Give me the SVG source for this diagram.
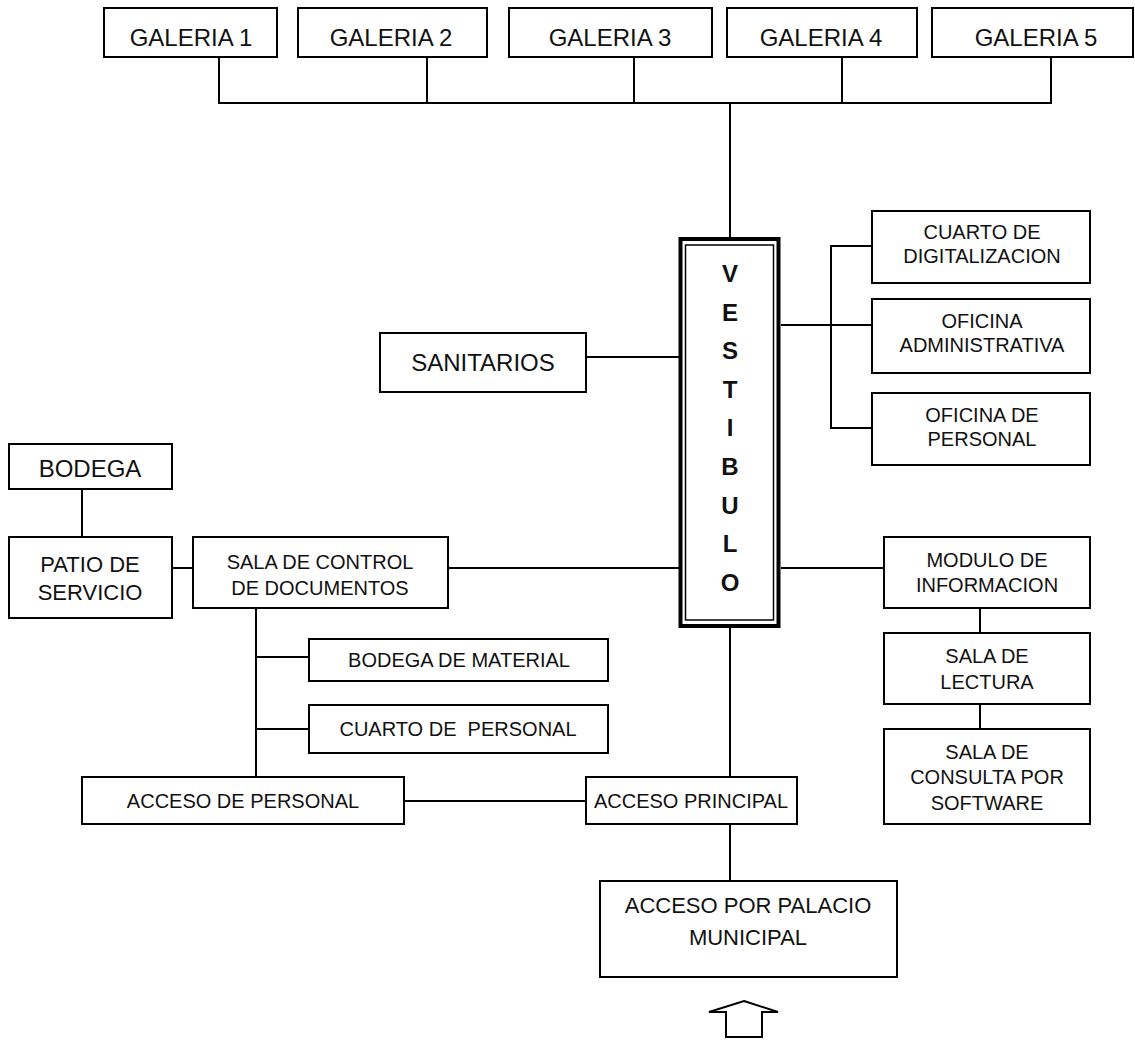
<svg xmlns="http://www.w3.org/2000/svg" width="1135" height="1042" viewBox="0 0 1135 1042">
  <style>
    .box { fill: #ffffff; stroke: #000000; stroke-width: 2; }
    .wire { fill: none; stroke: #000000; stroke-width: 2; }
    text { font-family: "Liberation Sans", Arial, sans-serif; fill: #111111; text-anchor: middle; }
    .t24 { font-size: 24px; }
    .t22 { font-size: 22px; }
    .t20 { font-size: 20px; }
    .vert { font-size: 24px; font-weight: bold; }
  </style>
  <rect x="0" y="0" width="1135" height="1042" fill="#ffffff"/>

  <!-- connectors -->
  <g id="connectors">
    <!-- gallery bus -->
    <path class="wire" d="M219,57 V103 H1051 V57 M427,57 V103 M634,57 V103 M842,57 V103 M730,103 V237"/>
    <!-- right office bus -->
    <path class="wire" d="M872,246 H831 V428 H872 M781,325 H872"/>
    <!-- sanitarios -->
    <path class="wire" d="M586,357 H679"/>
    <!-- document control row -->
    <path class="wire" d="M172,568 H193 M448,568 H679 M82,489 V537"/>
    <!-- information row -->
    <path class="wire" d="M781,568 H884 M980,608 V633 M980,704 V729"/>
    <!-- staff branch -->
    <path class="wire" d="M256,608 V777 M256,657 H309 M256,729 H309 M404,801 H586"/>
    <!-- main axis -->
    <path class="wire" d="M730,628 V777 M730,824 V881"/>
  </g>

  <!-- galleries -->
  <g id="galeria-1"><rect class="box" x="104" y="8" width="173" height="49"/><text class="t24" x="191" y="46">GALERIA 1</text></g>
  <g id="galeria-2"><rect class="box" x="298" y="8" width="189" height="49"/><text class="t24" x="391" y="46">GALERIA 2</text></g>
  <g id="galeria-3"><rect class="box" x="509" y="8" width="203" height="49"/><text class="t24" x="610" y="46">GALERIA 3</text></g>
  <g id="galeria-4"><rect class="box" x="727" y="8" width="190" height="49"/><text class="t24" x="821" y="46">GALERIA 4</text></g>
  <g id="galeria-5"><rect class="box" x="932" y="8" width="201" height="49"/><text class="t24" x="1036" y="46">GALERIA 5</text></g>

  <!-- lobby with double frame -->
  <g id="vestibulo">
    <rect x="680.5" y="239" width="98" height="387" fill="#ffffff" stroke="#000000" stroke-width="4"/>
    <rect x="685.5" y="245" width="88" height="375" fill="none" stroke="#000000" stroke-width="1.5"/>
    <text class="vert" x="730" y="282">V</text>
    <text class="vert" x="730" y="321">E</text>
    <text class="vert" x="730" y="359">S</text>
    <text class="vert" x="730" y="398">T</text>
    <text class="vert" x="730" y="436">I</text>
    <text class="vert" x="730" y="475">B</text>
    <text class="vert" x="730" y="514">U</text>
    <text class="vert" x="730" y="552">L</text>
    <text class="vert" x="730" y="591">O</text>
  </g>

  <g id="sanitarios"><rect class="box" x="380" y="333" width="206" height="59"/><text class="t24" x="483" y="371">SANITARIOS</text></g>

  <!-- offices -->
  <g id="cuarto-digitalizacion"><rect class="box" x="872" y="211" width="218" height="72"/><text class="t20" x="982" y="239">CUARTO DE</text><text class="t20" x="982" y="263">DIGITALIZACION</text></g>
  <g id="oficina-administrativa"><rect class="box" x="872" y="299" width="218" height="74"/><text class="t20" x="982" y="328">OFICINA</text><text class="t20" x="982" y="352">ADMINISTRATIVA</text></g>
  <g id="oficina-personal"><rect class="box" x="872" y="393" width="218" height="72"/><text class="t20" x="982" y="422">OFICINA DE</text><text class="t20" x="982" y="446">PERSONAL</text></g>

  <g id="modulo-informacion"><rect class="box" x="884" y="537" width="206" height="71"/><text class="t20" x="987" y="567">MODULO DE</text><text class="t20" x="987" y="592">INFORMACION</text></g>
  <g id="sala-lectura"><rect class="box" x="884" y="633" width="206" height="71"/><text class="t20" x="987" y="663">SALA DE</text><text class="t20" x="987" y="689">LECTURA</text></g>
  <g id="sala-consulta"><rect class="box" x="884" y="729" width="206" height="95"/><text class="t20" x="987" y="759">SALA DE</text><text class="t20" x="987" y="784">CONSULTA POR</text><text class="t20" x="987" y="810">SOFTWARE</text></g>

  <!-- service side -->
  <g id="bodega"><rect class="box" x="9" y="444" width="163" height="45"/><text class="t24" x="90" y="477">BODEGA</text></g>
  <g id="patio-servicio"><rect class="box" x="9" y="537" width="163" height="81"/><text class="t22" x="90" y="572">PATIO DE</text><text class="t22" x="90" y="600">SERVICIO</text></g>
  <g id="sala-control"><rect class="box" x="193" y="537" width="255" height="71"/><text class="t20" x="320" y="569">SALA DE CONTROL</text><text class="t20" x="320" y="595">DE DOCUMENTOS</text></g>
  <g id="bodega-material"><rect class="box" x="309" y="639" width="299" height="42"/><text class="t20" x="459" y="667">BODEGA DE MATERIAL</text></g>
  <g id="cuarto-personal"><rect class="box" x="309" y="705" width="299" height="48"/><text class="t20" x="458" y="736" xml:space="preserve">CUARTO DE  PERSONAL</text></g>

  <!-- entrances -->
  <g id="acceso-personal"><rect class="box" x="82" y="777" width="322" height="47"/><text class="t20" x="243" y="808">ACCESO DE PERSONAL</text></g>
  <g id="acceso-principal"><rect class="box" x="586" y="777" width="211" height="47"/><text class="t20" x="691" y="808">ACCESO PRINCIPAL</text></g>
  <g id="acceso-palacio"><rect class="box" x="600" y="881" width="297" height="96"/><text class="t22" x="748" y="913">ACCESO POR PALACIO</text><text class="t22" x="748" y="945">MUNICIPAL</text></g>

  <!-- entry arrow -->
  <g id="entrada">
    <polygon points="744,1001 778,1012 762,1012 762,1037 726,1037 726,1012 709,1012" fill="#ffffff" stroke="#000000" stroke-width="2" stroke-linejoin="miter"/>
  </g>
</svg>
